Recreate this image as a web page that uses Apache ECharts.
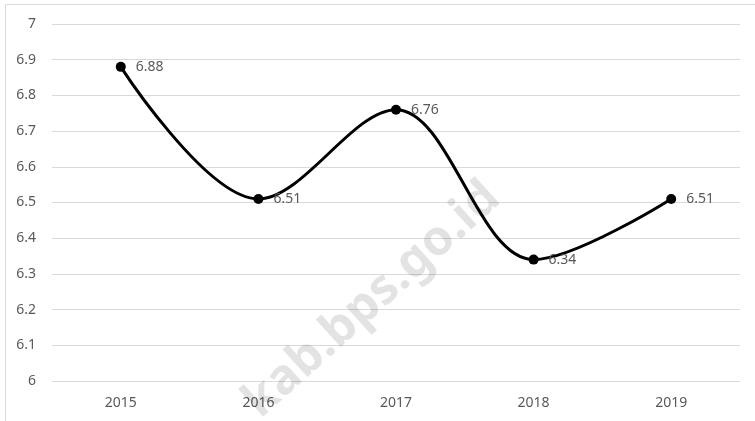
<!DOCTYPE html>
<html>
<head>
<meta charset="utf-8">
<script src="https://cdn.jsdelivr.net/npm/echarts@6/dist/echarts.min.js"></script>
<style>
  html, body { margin: 0; padding: 0; background: #ffffff; }
  #chart { width: 755px; height: 421px; }
</style>
</head>
<body>
<div id="chart"></div>
<script>
// Yearly values, 2015–2019
const years = ['2015', '2016', '2017', '2018', '2019'];
const values = [6.88, 6.51, 6.76, 6.34, 6.51];
const yMin = 6;
const yMax = 7;
const yStep = 0.1;
const watermarkText = 'kab.bps.go.id';

const textFont = '"Noto Sans", "Open Sans", sans-serif';
const textColor = '#595959';

const chart = echarts.init(document.getElementById('chart'), null, { renderer: 'canvas' });

chart.setOption({
  animation: false,
  backgroundColor: '#ffffff',
  grid: { left: 52, top: 24, width: 688, height: 357, containLabel: false },
  graphic: [
    {
      type: 'rect',
      silent: true,
      z: -10,
      shape: { x: 5.5, y: 4.5, width: 800, height: 500 },
      style: { fill: 'none', stroke: '#d9d9d9', lineWidth: 1 }
    },
    {
      type: 'text',
      silent: true,
      z: 1,
      x: 372,
      y: 300,
      rotation: 42 * Math.PI / 180,
      style: {
        text: watermarkText,
        font: 'bold 49px "Noto Sans", "Open Sans", sans-serif',
        fill: 'rgba(0,0,0,0.11)',
        align: 'center',
        verticalAlign: 'middle'
      }
    }
  ],
  xAxis: {
    type: 'category',
    data: years,
    boundaryGap: true,
    axisLine: { show: false },
    axisTick: { show: false },
    axisLabel: {
      color: textColor,
      fontFamily: textFont,
      fontSize: 14,
      margin: 15
    },
    splitLine: { show: false }
  },
  yAxis: {
    type: 'value',
    min: yMin,
    max: yMax,
    interval: yStep,
    axisLine: { show: false },
    axisTick: { show: false },
    axisLabel: {
      color: textColor,
      fontFamily: textFont,
      fontSize: 14,
      margin: 16,
      formatter: v => String(Math.round(v * 10) / 10)
    },
    splitLine: { lineStyle: { color: '#d9d9d9', width: 1 } }
  },
  series: [
    {
      type: 'line',
      data: values,
      smooth: 0.35,
      symbol: 'circle',
      symbolSize: 10,
      z: 3,
      lineStyle: { color: '#000000', width: 3 },
      itemStyle: { color: '#000000' },
      label: {
        show: true,
        position: 'right',
        distance: 10,
        color: textColor,
        fontFamily: textFont,
        fontSize: 14,
        formatter: p => p.value.toFixed(2)
      }
    }
  ]
});
</script>
</body>
</html>
